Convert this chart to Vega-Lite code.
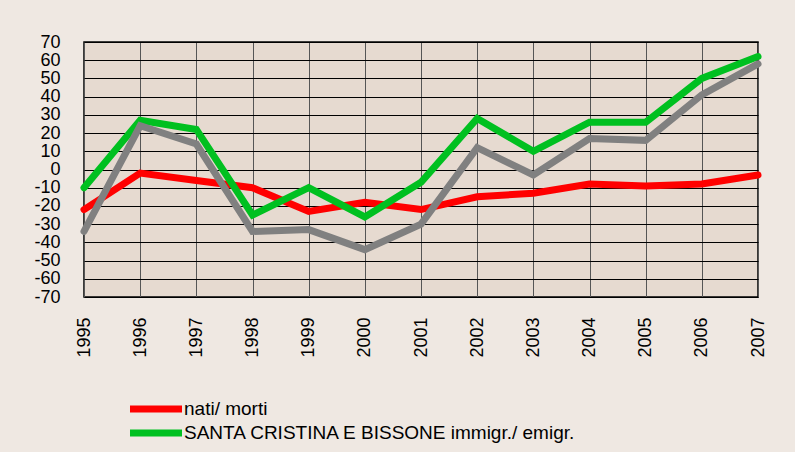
{
  "$schema": "https://vega.github.io/schema/vega-lite/v6.json",
  "width": 674,
  "height": 255,
  "autosize": {"type": "none"},
  "padding": {"left": 84, "top": 42, "right": 37, "bottom": 155},
  "background": "#efe8e2",
  "config": {
    "view": {"fill": "#e6dad0", "stroke": "#000000", "strokeWidth": 1.5},
    "font": "Liberation Sans"
  },
  "data": {
    "values": [
      {"anno": "1995", "serie": "nati/ morti", "valore": -22},
      {"anno": "1996", "serie": "nati/ morti", "valore": -2},
      {"anno": "1997", "serie": "nati/ morti", "valore": -6},
      {"anno": "1998", "serie": "nati/ morti", "valore": -10},
      {"anno": "1999", "serie": "nati/ morti", "valore": -23},
      {"anno": "2000", "serie": "nati/ morti", "valore": -18},
      {"anno": "2001", "serie": "nati/ morti", "valore": -22},
      {"anno": "2002", "serie": "nati/ morti", "valore": -15},
      {"anno": "2003", "serie": "nati/ morti", "valore": -13},
      {"anno": "2004", "serie": "nati/ morti", "valore": -8},
      {"anno": "2005", "serie": "nati/ morti", "valore": -9},
      {"anno": "2006", "serie": "nati/ morti", "valore": -8},
      {"anno": "2007", "serie": "nati/ morti", "valore": -3},
      {"anno": "1995", "serie": "SANTA CRISTINA E BISSONE immigr./ emigr.", "valore": -10},
      {"anno": "1996", "serie": "SANTA CRISTINA E BISSONE immigr./ emigr.", "valore": 27},
      {"anno": "1997", "serie": "SANTA CRISTINA E BISSONE immigr./ emigr.", "valore": 22},
      {"anno": "1998", "serie": "SANTA CRISTINA E BISSONE immigr./ emigr.", "valore": -25},
      {"anno": "1999", "serie": "SANTA CRISTINA E BISSONE immigr./ emigr.", "valore": -10},
      {"anno": "2000", "serie": "SANTA CRISTINA E BISSONE immigr./ emigr.", "valore": -26},
      {"anno": "2001", "serie": "SANTA CRISTINA E BISSONE immigr./ emigr.", "valore": -7},
      {"anno": "2002", "serie": "SANTA CRISTINA E BISSONE immigr./ emigr.", "valore": 28},
      {"anno": "2003", "serie": "SANTA CRISTINA E BISSONE immigr./ emigr.", "valore": 10},
      {"anno": "2004", "serie": "SANTA CRISTINA E BISSONE immigr./ emigr.", "valore": 26},
      {"anno": "2005", "serie": "SANTA CRISTINA E BISSONE immigr./ emigr.", "valore": 26},
      {"anno": "2006", "serie": "SANTA CRISTINA E BISSONE immigr./ emigr.", "valore": 50},
      {"anno": "2007", "serie": "SANTA CRISTINA E BISSONE immigr./ emigr.", "valore": 62},
      {"anno": "1995", "serie": "saldo totale", "valore": -34},
      {"anno": "1996", "serie": "saldo totale", "valore": 24},
      {"anno": "1997", "serie": "saldo totale", "valore": 14},
      {"anno": "1998", "serie": "saldo totale", "valore": -34},
      {"anno": "1999", "serie": "saldo totale", "valore": -33},
      {"anno": "2000", "serie": "saldo totale", "valore": -44},
      {"anno": "2001", "serie": "saldo totale", "valore": -30},
      {"anno": "2002", "serie": "saldo totale", "valore": 12},
      {"anno": "2003", "serie": "saldo totale", "valore": -3},
      {"anno": "2004", "serie": "saldo totale", "valore": 17},
      {"anno": "2005", "serie": "saldo totale", "valore": 16},
      {"anno": "2006", "serie": "saldo totale", "valore": 41},
      {"anno": "2007", "serie": "saldo totale", "valore": 58}
    ]
  },
  "mark": {"type": "line", "strokeWidth": 7, "strokeCap": "round", "strokeJoin": "miter"},
  "encoding": {
    "x": {
      "field": "anno", "type": "ordinal",
      "scale": {"type": "point", "padding": 0},
      "axis": {
        "title": null, "grid": true, "gridColor": "#555555", "gridWidth": 1,
        "ticks": false, "domain": false,
        "labelAngle": 270, "labelAlign": "right", "labelBaseline": "middle",
        "labelFontSize": 18, "labelColor": "#000000", "labelPadding": 20
      }
    },
    "y": {
      "field": "valore", "type": "quantitative",
      "scale": {"domain": [-70, 70], "nice": false},
      "axis": {
        "title": null, "values": [-70,-60,-50,-40,-30,-20,-10,0,10,20,30,40,50,60,70],
        "labelExpr": "'' + datum.value",
        "grid": true, "gridColor": "#000000", "gridWidth": 1,
        "ticks": false, "domain": false,
        "labelFontSize": 18, "labelColor": "#000000", "labelPadding": 24,
        "labelBaseline": "middle"
      }
    },
    "color": {
      "field": "serie", "type": "nominal",
      "sort": ["nati/ morti", "SANTA CRISTINA E BISSONE immigr./ emigr.", "saldo totale"],
      "scale": {
        "domain": ["nati/ morti", "SANTA CRISTINA E BISSONE immigr./ emigr.", "saldo totale"],
        "range": ["#ff0000", "#00c020", "#808080"]
      },
      "legend": {
        "title": null, "orient": "none", "legendX": 62, "legendY": 357,
        "values": ["nati/ morti", "SANTA CRISTINA E BISSONE immigr./ emigr."],
        "symbolType": "M-4,0H4", "symbolSize": 169, "symbolStrokeWidth": 7,
        "labelFontSize": 19, "labelColor": "#000000", "labelLimit": 700,
        "rowPadding": -4, "labelOffset": 18
      }
    }
  }
}
